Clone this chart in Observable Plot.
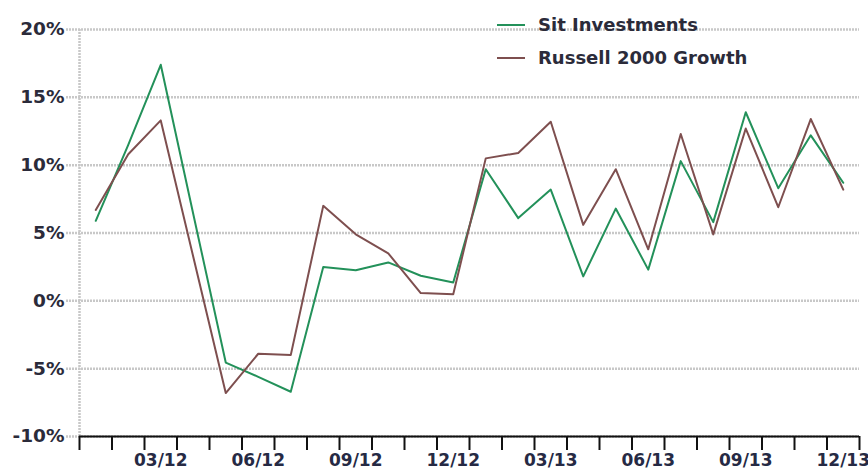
<!DOCTYPE html>
<html>
<head>
<meta charset="utf-8">
<script src="https://cdn.jsdelivr.net/npm/d3@7"></script>
<script src="https://cdn.jsdelivr.net/npm/@observablehq/plot@0.6"></script>
<style>
  html, body { margin: 0; padding: 0; background: #fff; }
  #wrap { position: relative; width: 868px; height: 469px; overflow: hidden; font-family: "DejaVu Sans", Verdana, sans-serif; }
  #legend { position: absolute; left: 497px; top: 8px; font-size: 18px; font-weight: bold; color: #2b2b3a; }
  #legend .row { display: flex; align-items: center; height: 33px; }
  #legend .sw { width: 28px; height: 2px; margin-right: 13px; }
</style>
</head>
<body>
<div id="wrap"><div id="legend"></div></div>
<script>
const months = ["01/12","02/12","03/12","04/12","05/12","06/12","07/12","08/12","09/12","10/12","11/12","12/12",
                "01/13","02/13","03/13","04/13","05/13","06/13","07/13","08/13","09/13","10/13","11/13","12/13"];
const sitInvestments = [5.9, 11.5, 17.4, 6.4, -4.55, -5.6, -6.7, 2.5, 2.26, 2.83, 1.85, 1.35,
                        9.7, 6.1, 8.2, 1.8, 6.8, 2.3, 10.3, 5.8, 13.9, 8.3, 12.2, 8.7];
const russell2000Growth = [6.7, 10.8, 13.3, 3.25, -6.8, -3.9, -4.0, 7.0, 4.9, 3.5, 0.57, 0.49,
                           10.5, 10.9, 13.2, 5.6, 9.7, 3.8, 12.3, 4.9, 12.7, 6.9, 13.4, 8.2];
const tickLabels = ["03/12","06/12","09/12","12/12","03/13","06/13","09/13","12/13"];
const yTicks = [-10, -5, 0, 5, 10, 15, 20];
const seriesNames = ["Sit Investments", "Russell 2000 Growth"];
const colors = ["#23915a", "#7e4f4f"];

const rows = months.map((m, i) => ({x: i + 0.5, sit: sitInvestments[i], russell: russell2000Growth[i]}));
const labelPos = tickLabels.map(l => months.indexOf(l) + 0.5);

const font = "DejaVu Sans, Verdana, sans-serif";
const chart = Plot.plot({
  width: 868,
  height: 469,
  marginTop: 29,
  marginBottom: 33,
  marginLeft: 79,
  marginRight: 9,
  style: {fontFamily: font, background: "transparent", overflow: "visible"},
  x: {type: "linear", domain: [0, 24]},
  y: {domain: [-10, 20]},
  marks: [
    Plot.gridY(yTicks, {stroke: "#c8c8c8", strokeOpacity: 1, strokeWidth: 2.5, strokeDasharray: "2,1", insetLeft: -13}),
    Plot.ruleX([0], {stroke: "#c8c8c8", strokeWidth: 2.5, strokeDasharray: "2,1"}),
    Plot.axisY(yTicks, {tickSize: 0, tickPadding: 15, tickFormat: d => d + "%", fontSize: 18.5, fontWeight: "bold", fill: "#2b2b3a", label: null}),
    Plot.ruleY([-10], {stroke: "#111", strokeWidth: 2}),
    Plot.axisX(d3.range(0, 25), {tickSize: 14, tickFormat: () => "", stroke: "#111", strokeWidth: 2, label: null}),
    Plot.axisX(labelPos, {tickSize: 0, tickPadding: 17, tickFormat: (d) => tickLabels[labelPos.indexOf(d)], fontSize: 17, fontWeight: "bold", fill: "#262a44", label: null}),
    Plot.line(rows, {x: "x", y: "sit", stroke: colors[0], strokeWidth: 2}),
    Plot.line(rows, {x: "x", y: "russell", stroke: colors[1], strokeWidth: 2})
  ]
});
const wrap = document.getElementById("wrap");
wrap.insertBefore(chart, wrap.firstChild);

const legend = d3.select("#legend");
seriesNames.forEach((name, i) => {
  const row = legend.append("div").attr("class", "row");
  row.append("div").attr("class", "sw").style("background", colors[i]);
  row.append("span").text(name);
});
</script>
</body>
</html>
